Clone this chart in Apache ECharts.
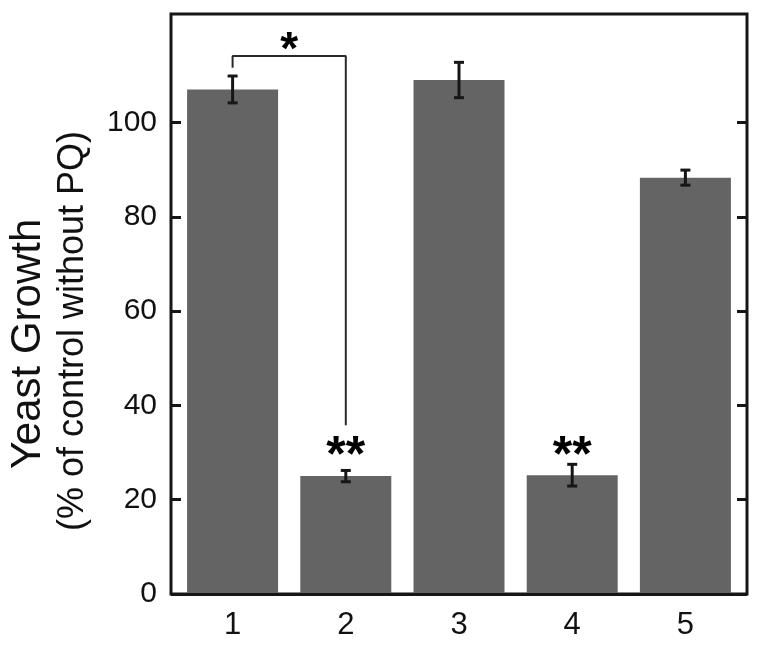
<!DOCTYPE html>
<html>
<head>
<meta charset="utf-8">
<script src="https://cdn.jsdelivr.net/npm/echarts@6/dist/echarts.min.js"></script>
<style>
  html, body { margin: 0; padding: 0; background: #fff; }
  #chart { width: 762px; height: 650px; }
</style>
</head>
<body>
<div id="chart"></div>
<script>
const categories = ['1', '2', '3', '4', '5']
const growth = [107.0, 25.0, 109.0, 25.2, 88.3]
const growthErr = [2.85, 1.2, 3.75, 2.3, 1.6]
const yTicks = [0, 20, 40, 60, 80, 100]
// significance marks: category index, text, height (data units)
const sigStars = [
  { cat: 1, text: '**', y: 29.0 },
  { cat: 3, text: '**', y: 29.0 }
]
// bracket between bar 1 and bar 2
const bracket = [[0, 111.6], [0, 114.1], [1, 114.1], [1, 35.8]]
const bracketStar = { from: 0, to: 1, text: '*', y: 115.0 }

const FONT = 'Liberation Sans, Arial, Helvetica, sans-serif'
const INK = '#161616'
const Y_MAX = 123

const chart = echarts.init(document.getElementById('chart'))

const errData = growth.map((v, i) => [i, v + growthErr[i], v - growthErr[i]])

chart.setOption({
  animation: false,
  grid: [
    // bars
    { left: 176, right: 20, top: 14, bottom: 56 },
    // frame
    { left: 171, right: 15, top: 14, bottom: 56, show: true, borderColor: INK, borderWidth: 3 }
  ],
  xAxis: [
    {
      type: 'category',
      gridIndex: 0,
      data: categories,
      z: 5,
      axisLine: { show: true, lineStyle: { color: INK, width: 3 } },
      axisTick: { show: false },
      axisLabel: { fontSize: 31, fontFamily: FONT, color: '#111', margin: 16 }
    },
    { type: 'value', gridIndex: 1, show: false }
  ],
  yAxis: [
    { type: 'value', gridIndex: 0, min: 0, max: Y_MAX, show: false },
    {
      type: 'value',
      gridIndex: 1,
      position: 'left',
      min: 0,
      max: Y_MAX,
      interval: 20,
      axisLine: { show: false },
      splitLine: { show: false },
      axisTick: { show: true, inside: true, length: 10, customValues: yTicks, lineStyle: { color: INK, width: 3 } },
      axisLabel: {
        fontSize: 30,
        fontFamily: FONT,
        color: '#111',
        margin: 14,
        customValues: yTicks,
        formatter: v => (v > 100 ? '' : v)
      }
    },
    {
      type: 'value',
      gridIndex: 1,
      position: 'right',
      min: 0,
      max: Y_MAX,
      interval: 20,
      axisLine: { show: false },
      splitLine: { show: false },
      axisTick: { show: true, inside: true, length: 10, customValues: yTicks, lineStyle: { color: INK, width: 3 } },
      axisLabel: { show: false }
    }
  ],
  graphic: [
    {
      type: 'text',
      x: 28,
      y: 344,
      rotation: Math.PI / 2,
      style: { text: 'Yeast Growth', fontSize: 42, fontFamily: FONT, fill: '#111', align: 'center', verticalAlign: 'middle' }
    },
    {
      type: 'text',
      x: 73,
      y: 331,
      rotation: Math.PI / 2,
      style: { text: '(% of control without PQ)', fontSize: 36, fontFamily: FONT, fill: '#111', align: 'center', verticalAlign: 'middle' }
    }
  ],
  series: [
    {
      type: 'bar',
      xAxisIndex: 0,
      yAxisIndex: 0,
      data: growth,
      barWidth: 91,
      itemStyle: { color: '#646464' }
    },
    {
      type: 'custom',
      xAxisIndex: 0,
      yAxisIndex: 0,
      z: 4,
      data: errData,
      renderItem: function (params, api) {
        const top = api.coord([api.value(0), api.value(1)])
        const bot = api.coord([api.value(0), api.value(2)])
        const w = 5
        const style = { stroke: INK, lineWidth: 3 }
        return {
          type: 'group',
          children: [
            { type: 'line', shape: { x1: top[0], y1: top[1], x2: bot[0], y2: bot[1] }, style },
            { type: 'line', shape: { x1: top[0] - w, y1: top[1], x2: top[0] + w, y2: top[1] }, style },
            { type: 'line', shape: { x1: bot[0] - w, y1: bot[1], x2: bot[0] + w, y2: bot[1] }, style }
          ]
        }
      }
    },
    {
      type: 'line',
      xAxisIndex: 0,
      yAxisIndex: 0,
      data: bracket,
      symbol: 'none',
      lineStyle: { color: '#2a2a2a', width: 2 },
      z: 4
    },
    {
      type: 'custom',
      xAxisIndex: 0,
      yAxisIndex: 0,
      z: 4,
      data: sigStars.map(s => [s.cat, s.y, s.text]),
      renderItem: function (params, api) {
        const p = api.coord([api.value(0), api.value(1)])
        return {
          type: 'text',
          x: p[0],
          y: p[1],
          style: {
            text: sigStars[params.dataIndex].text,
            fontSize: 50,
            fontWeight: 'bold',
            fontFamily: FONT,
            fill: '#000',
            align: 'center',
            verticalAlign: 'middle'
          }
        }
      }
    },
    {
      type: 'custom',
      xAxisIndex: 0,
      yAxisIndex: 0,
      z: 4,
      data: [[bracketStar.from, bracketStar.to, bracketStar.y]],
      renderItem: function (params, api) {
        const a = api.coord([api.value(0), api.value(2)])
        const b = api.coord([api.value(1), api.value(2)])
        return {
          type: 'text',
          x: (a[0] + b[0]) / 2,
          y: a[1],
          style: {
            text: bracketStar.text,
            fontSize: 46,
            fontWeight: 'bold',
            fontFamily: FONT,
            fill: '#000',
            align: 'center',
            verticalAlign: 'middle'
          }
        }
      }
    }
  ]
})
</script>
</body>
</html>
